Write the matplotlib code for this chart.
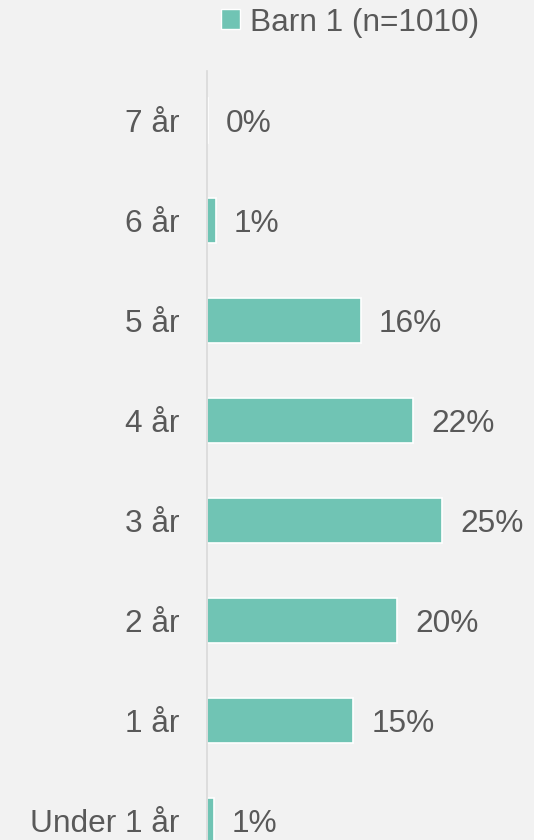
import matplotlib.pyplot as plt
from matplotlib.patches import Patch

plt.rcParams['font.family'] = ['Liberation Sans', 'DejaVu Sans']

# data (top to bottom as drawn)
categories = ['7 år', '6 år', '5 år', '4 år', '3 år', '2 år', '1 år', 'Under 1 år']
values = [0.1, 0.9, 16.3, 21.8, 24.9, 20.1, 15.5, 0.7]
labels = ['0%', '1%', '16%', '22%', '25%', '20%', '15%', '1%']
series_name = 'Barn 1 (n=1010)'

bar_color = '#70c4b4'
text_color = '#595959'
bg = '#f2f2f2'
fs = 22.8

fig = plt.figure(figsize=(5.34, 8.40), dpi=100, facecolor=bg)
ax = fig.add_axes([207 / 534, -30 / 840, 300 / 534, 799 / 840], facecolor=bg)

ypos = list(range(len(categories)))
ax.barh(ypos, values, height=0.45, color=bar_color, edgecolor='white', linewidth=1.2)

for y, v, lab in zip(ypos, values, labels):
    ax.annotate(lab, (v, y), xytext=(13, 0), textcoords='offset points',
                ha='left', va='center_baseline', fontsize=fs, color=text_color)

ax.set_xlim(0, 300 / 9.45)
ax.set_ylim(len(categories) - 0.5, -0.5)
ax.set_yticks(ypos)
ax.set_yticklabels(categories, fontsize=fs, color=text_color)
ax.tick_params(axis='y', length=0, pad=20)
ax.set_xticks([])
for s in ['top', 'right', 'bottom']:
    ax.spines[s].set_visible(False)
ax.spines['left'].set_color('#d9d9d9')
ax.spines['left'].set_linewidth(1.2)

handle = Patch(facecolor=bar_color, edgecolor='white', linewidth=1)
fig.legend([handle], [series_name], loc='upper center', bbox_to_anchor=(350 / 534, 1.025),
           frameon=False, fontsize=fs, labelcolor=text_color,
           handlelength=0.6, handleheight=0.6, handletextpad=0.3)

fig.savefig('out.png', dpi=100, facecolor=bg)
